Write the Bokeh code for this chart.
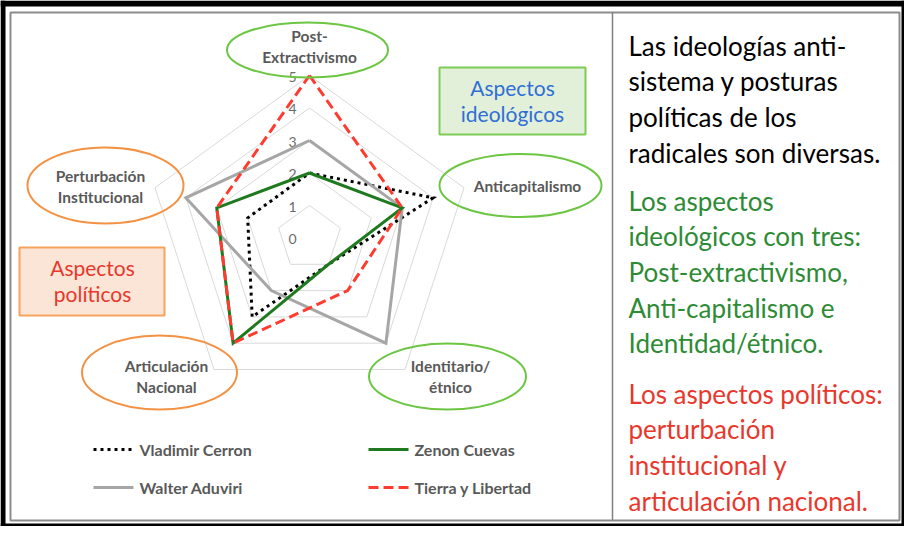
import math
from bokeh.plotting import figure
from bokeh.models import Range1d
from bokeh.core.properties import value
from bokeh.embed import file_html
from bokeh.resources import INLINE

# ---------------- data ----------------
axes_lines = [["Post-", "Extractivismo"], ["Anticapitalismo"], ["Identitario/", "étnico"],
              ["Articulación", "Nacional"], ["Perturbación", "Institucional"]]
tick_values = [0, 1, 2, 3, 4, 5]
series_names = ["Vladimir Cerron", "Walter Aduviri", "Zenon Cuevas", "Tierra y Libertad"]
vladimir = [2, 4, 1, 3, 2]
walter = [3, 3, 4, 2, 4]
zenon = [2, 3, 1, 4, 3]
tierra = [5, 3, 2, 4, 3]

box_ideo = ["Aspectos", "ideológicos"]
box_pol = ["Aspectos", "políticos"]
text_black = ["Las ideologías anti-", "sistema y posturas", "políticas de los", "radicales son diversas."]
text_green = ["Los aspectos", "ideológicos con tres:", "Post-extractivismo,", "Anti-capitalismo e", "Identidad/étnico."]
text_red = ["Los aspectos políticos:", "perturbación", "institucional y", "articulación nacional."]

# ---------------- figure (data coords = reference pixels) ----------------
W, H = 904, 526
p = figure(width=W, height=H, output_backend="svg", toolbar_location=None,
           x_range=Range1d(0, W), y_range=Range1d(H, 0),
           min_border=0, outline_line_color=None)
p.axis.visible = False
p.grid.visible = False
p.background_fill_color = "white"
p.border_fill_color = "white"

FONT = value("Lato")
LABEL_GRAY = "#595959"

# outer black border (picture frame)
p.quad(left=[0, 0, 0, W - 3], right=[5, W, W, W], top=[0, 0, H - 3, 0], bottom=[H, 6, H, H],
       fill_color="black", line_color=None)
# inner frame + divider
p.quad(left=[10], right=[899], top=[12], bottom=[520], fill_alpha=0,
       line_color="#8c8c8c", line_width=2)
p.segment(x0=[612], y0=[12], x1=[612], y1=[520], line_color="#7f7f7f", line_width=1.5)

# ---------------- radar ----------------
cx, cy, unit = 309, 237.5, 32.5
n = len(axes_lines)
angles = [math.radians(90 - 72 * k) for k in range(n)]

def pts(vals):
    xs = [cx + v * unit * math.cos(a) for v, a in zip(vals, angles)]
    ys = [cy - v * unit * math.sin(a) for v, a in zip(vals, angles)]
    return xs + xs[:1], ys + ys[:1]

for lvl in tick_values[1:]:
    gx, gy = pts([lvl] * n)
    p.line(gx, gy, line_color="#d9d9d9", line_width=1)

# tick labels
p.text(x=[cx - 13] * len(tick_values), y=[cy - v * unit + 1 for v in tick_values],
       text=[str(v) for v in tick_values], text_align="right", text_baseline="middle",
       text_font=FONT, text_font_size="14px", text_color="#6b6b6b")

styles = [
    dict(line_color="black", line_width=3, line_dash="3 4"),
    dict(line_color="#a6a6a6", line_width=3),
    dict(line_color="#1f7a1f", line_width=3),
    dict(line_color="#ff3b2f", line_width=3, line_dash="10 5"),
]
for vals, st in zip([vladimir, walter, zenon, tierra], styles):
    sx, sy = pts(vals)
    p.line(sx, sy, line_join="miter", **st)

# ---------------- category ellipses & labels ----------------
ell_x = [307, 520, 447, 159, 105]
ell_y = [49.5, 185, 376, 372, 185]
ell_w = [161, 162, 157, 155, 156]
ell_h = [55, 63, 66, 74, 76]
ell_c = ["#6cc644", "#6cc644", "#6cc644", "#f39244", "#f39244"]
p.ellipse(x=ell_x, y=ell_y, width=ell_w, height=ell_h, fill_alpha=0,
          line_color=ell_c, line_width=2)

lab_x = [309, 527, 450, 166, 100]
lab_y0 = [35, 185, 365, 365, 175]
lx, ly, lt = [], [], []
for lines, x0, y0 in zip(axes_lines, lab_x, lab_y0):
    for i, t in enumerate(lines):
        lx.append(x0); ly.append(y0 + 21 * i); lt.append(t)
p.text(x=lx, y=ly, text=lt, text_align="center", text_baseline="middle",
       text_font=FONT, text_font_style="bold", text_font_size="15.5px", text_color=LABEL_GRAY)

# ---------------- aspect boxes ----------------
p.quad(left=[439], right=[585], top=[67], bottom=[134], fill_color="#e2f0d9",
       line_color="#7dcc55", line_width=2)
p.text(x=[512, 512], y=[87, 113], text=box_ideo, text_align="center", text_baseline="middle",
       text_font=FONT, text_font_size="21px", text_color="#2f6fd6")
p.quad(left=[19], right=[164], top=[247], bottom=[315], fill_color="#fbe5d6",
       line_color="#f7a35c", line_width=2)
p.text(x=[92, 92], y=[267, 293], text=box_pol, text_align="center", text_baseline="middle",
       text_font=FONT, text_font_size="21px", text_color="#e8382d")

# ---------------- legend ----------------
leg_pos = [(93, 449), (93, 487), (368, 449), (368, 487)]
for (x0, y0), st in zip(leg_pos, styles):
    p.line([x0, x0 + 40], [y0, y0], **st)
p.text(x=[x0 + 46 for x0, _ in leg_pos], y=[y0 for _, y0 in leg_pos],
       text=series_names, text_align="left", text_baseline="middle",
       text_font=FONT, text_font_style="bold", text_font_size="16px", text_color=LABEL_GRAY)

# ---------------- right text ----------------
def block(lines, y0, color):
    p.text(x=[628] * len(lines), y=[y0 + 35.7 * i for i in range(len(lines))], text=lines,
           text_align="left", text_baseline="middle", text_font=FONT,
           text_font_size="26px", text_color=color)

block(text_black, 45, "black")
block(text_green, 200, "#2e8b35")
block(text_red, 393, "#e8382d")

open("out.html", "w").write(file_html(p, INLINE))
